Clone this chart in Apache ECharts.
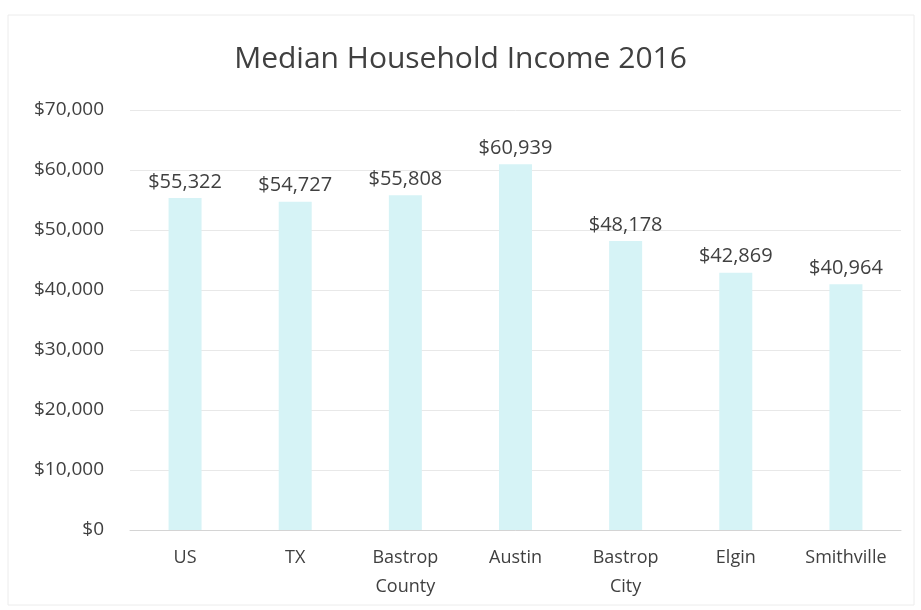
<!DOCTYPE html>
<html>
<head>
<meta charset="utf-8">
<script src="https://cdn.jsdelivr.net/npm/echarts@6/dist/echarts.min.js"></script>
<style>
  html, body { margin: 0; padding: 0; background: #fff; }
  #chart { width: 921px; height: 610px; }
</style>
</head>
<body>
<div id="chart"></div>
<script>
const places = ['US', 'TX', 'Bastrop\nCounty', 'Austin', 'Bastrop\nCity', 'Elgin', 'Smithville'];
const incomes = [55322, 54727, 55808, 60939, 48178, 42869, 40964];

const chart = echarts.init(document.getElementById('chart'));

const money = v => '$' + v.toLocaleString('en-US');

chart.setOption({
  backgroundColor: '#fff',
  textStyle: { fontFamily: 'Open Sans', color: '#404040' },
  title: {
    text: 'Median Household Income 2016',
    left: 'center',
    top: 39,
    textStyle: { fontSize: 30, fontWeight: 'normal', color: '#404040', fontFamily: 'Open Sans' }
  },
  // faint outline of the chart area, as in the original
  graphic: [{
    type: 'rect',
    shape: { x: 8, y: 15, width: 906, height: 590 },
    style: { fill: 'none', stroke: '#ececec', lineWidth: 1 },
    silent: true
  }],
  grid: { left: 130, right: 20, top: 110, bottom: 80 },
  xAxis: {
    type: 'category',
    data: places,
    axisTick: { show: false },
    axisLine: { lineStyle: { color: '#d4d4d4' } },
    axisLabel: { interval: 0, hideOverlap: false, color: '#404040', fontSize: 18, margin: 13, lineHeight: 29 }
  },
  yAxis: {
    type: 'value',
    min: 0,
    max: 70000,
    interval: 10000,
    axisLabel: { color: '#404040', fontSize: 19, margin: 26, formatter: money },
    splitLine: { lineStyle: { color: '#e8e8e8' } }
  },
  series: [{
    type: 'bar',
    data: incomes,
    barWidth: 33,
    itemStyle: { color: '#d6f3f6' },
    label: {
      show: true,
      position: 'top',
      distance: 6,
      fontSize: 20,
      color: '#404040',
      formatter: p => money(p.value)
    }
  }]
});
</script>
</body>
</html>
